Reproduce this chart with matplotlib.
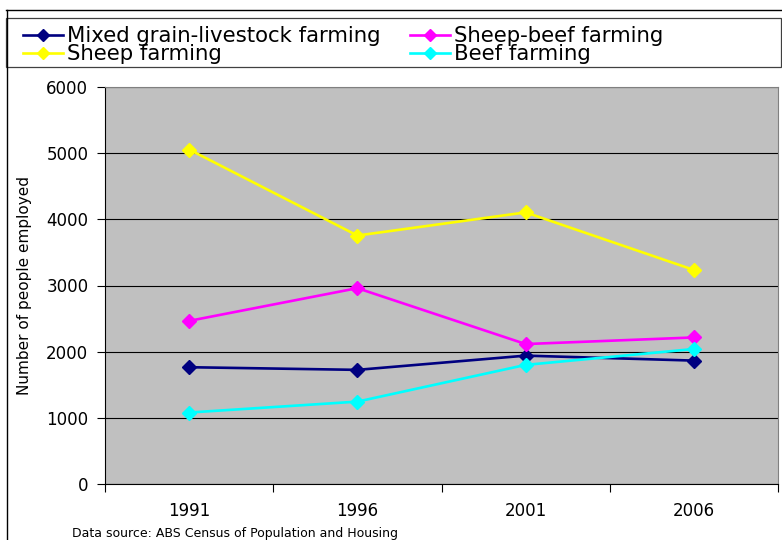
import matplotlib.pyplot as plt
from matplotlib.lines import Line2D
from matplotlib.patches import Rectangle

plt.rcParams['font.family'] = ['DejaVu Sans']

years = ['1991', '1996', '2001', '2006']
mixed = [1765, 1725, 1940, 1865]
sheep_beef = [2465, 2960, 2115, 2215]
sheep = [5055, 3755, 4105, 3235]
beef = [1080, 1245, 1800, 2040]

series = [
    ("Mixed grain-livestock farming", mixed, "#000080"),
    ("Sheep-beef farming", sheep_beef, "#FF00FF"),
    ("Sheep farming", sheep, "#FFFF00"),
    ("Beef farming", beef, "#00FFFF"),
]

W, H = 782, 540
fig = plt.figure(figsize=(W / 100, H / 100), dpi=100)
ax = fig.add_axes([105 / W, 1 - 484 / H, 673 / W, 397 / H])
ax.set_facecolor("#C0C0C0")

x = list(range(1, len(years) + 1))
for name, vals, col in series:
    ax.plot(x, vals, color=col, lw=1.9, marker="D", markersize=7.5,
            markeredgecolor=col, label=name, zorder=3)

ax.set_ylim(0, 6000)
ax.set_xlim(0.5, len(years) + 0.5)
ax.set_yticks(range(0, 6001, 1000))
ax.yaxis.grid(True, color="black", lw=0.8)
ax.set_axisbelow(True)

# category boundaries get the tick marks, labels sit in between
ax.set_xticks([i + 0.5 for i in range(len(years) + 1)])
ax.set_xticklabels([])
ax.set_xticks(x, minor=True)
ax.set_xticklabels(years, minor=True)
ax.tick_params(axis="x", which="minor", length=0, pad=13, labelsize=12)
ax.tick_params(axis="x", which="major", length=6, color="black")
ax.tick_params(axis="y", length=6, pad=6, labelsize=12)

for side in ["top", "right"]:
    ax.spines[side].set_color("#808080")
for side in ["left", "bottom"]:
    ax.spines[side].set_color("black")

ax.set_ylabel("Number of people employed", fontsize=11, labelpad=10)

# legend box across the top, two columns of entries
fig.patches.append(Rectangle((6 / W, 1 - 67 / H), 775 / W, 49 / H,
                             transform=fig.transFigure, fill=False,
                             edgecolor="#404040", lw=0.9))
legend_slots = [(23, 35), (410, 35), (23, 53), (410, 53)]
for (name, _, col), (lx, ly) in zip(series, legend_slots):
    yy = 1 - ly / H
    fig.add_artist(Line2D([lx / W, (lx + 40) / W], [yy, yy], transform=fig.transFigure,
                          color=col, lw=1.9))
    fig.add_artist(Line2D([(lx + 20) / W], [yy], transform=fig.transFigure,
                          color=col, marker="D", markersize=6, lw=0))
    fig.text((lx + 44) / W, 1 - (ly + 7) / H, name, fontsize=15.3,
             ha="left", va="baseline")

# outer chart frame
fig.add_artist(Line2D([6 / W, 1], [1 - 9.5 / H, 1 - 9.5 / H],
                      transform=fig.transFigure, color="black", lw=1))
fig.add_artist(Line2D([6.5 / W, 6.5 / W], [0, 1 - 9.5 / H],
                      transform=fig.transFigure, color="black", lw=1))

fig.text(72 / W, 1 - 537 / H, "Data source: ABS Census of Population and Housing",
         fontsize=9, va="baseline", ha="left")

fig.savefig("out.png", dpi=100)
